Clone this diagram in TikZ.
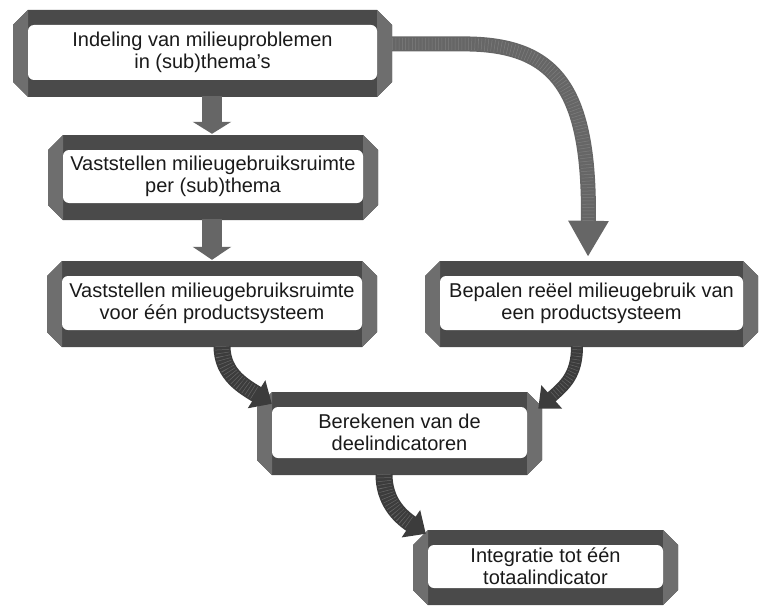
\documentclass[tikz,border=0pt]{standalone}
\usepackage{fontspec}
\setmainfont{Liberation Sans}
\usetikzlibrary{arrows.meta}
\definecolor{fdark}{HTML}{4A4A4A}
\definecolor{fside}{HTML}{6E6E6E}
\definecolor{arrmid}{HTML}{666666}
\definecolor{arrdark}{HTML}{3C3C3C}
\definecolor{hatchc}{HTML}{7E7E7E}
\definecolor{hatchd}{HTML}{666666}
\definecolor{txt}{HTML}{1A1A1A}
\tikzset{
  boxtext/.style={align=center, inner sep=0pt, text=txt,
    font=\fontsize{20}{22}\selectfont},
  fatstraight/.style={draw=arrmid, line width=20pt},
  curvedarrow/.style n args={3}{line width=#1pt,
    postaction={draw=#3, line width=#1pt-3pt, dash pattern=on 0.5pt off 2.8pt, arrows=-, shorten >=#2pt}},
}
\newcommand{\bevbox}[6]{%
  \fill[fdark] (#2+15,#3) -- (#4-15,#3) -- (#4,#3+15) -- (#4,#5-15) -- (#4-15,#5) -- (#2+15,#5) -- (#2,#5-15) -- (#2,#3+15) -- cycle;
  \fill[fside] (#2,#3+15) -- (#2+15,#3) -- (#2+15,#5) -- (#2,#5-15) -- cycle;
  \fill[fside] (#4,#3+15) -- (#4-15,#3) -- (#4-15,#5) -- (#4,#5-15) -- cycle;
  \fill[white,rounded corners=6pt] (#2+15,#3+15) rectangle (#4-15,#5-17);
  \node[boxtext, minimum width={(#4-#2)*1pt}, minimum height={(#5-#3)*1pt}] (#1) at ({(#2+#4)/2},{(#3+#5)/2-1}) {#6};
}
\begin{document}
\begin{tikzpicture}[x=1pt,y=-1pt]
\useasboundingbox (0,0) rectangle (759,615);
\bevbox{b1}{13}{10}{392}{97}{Indeling van milieuproblemen\\in (sub)thema's}
\bevbox{b2}{48}{135}{378}{220}{Vaststellen milieugebruiksruimte\\per (sub)thema}
\bevbox{b3}{47}{261}{377}{347}{Vaststellen milieugebruiksruimte\\voor één productsysteem}
\bevbox{b4}{425}{261}{758}{347}{Bepalen reëel milieugebruik van\\een productsysteem}
\bevbox{b5}{257}{392}{542}{475}{Berekenen van de\\deelindicatoren}
\bevbox{b6}{413}{530}{678}{605}{Integratie tot één\\totaalindicator}
% straight arrows
\draw[fatstraight, -{Triangle[length=12pt,width=38pt]}] ([xshift=9.5pt]b1.south) -- ([xshift=9.5pt]b1.south |- b2.north);
\draw[fatstraight, -{Triangle[length=13pt,width=38pt]}] ([xshift=-1pt]b2.south) -- ([xshift=-1pt]b2.south |- b3.north);
% curved arrow to b4
\draw[draw=arrmid, curvedarrow={15}{35}{hatchc}, -{Triangle[length=36pt,width=38pt]}]
  ([yshift=8.5pt]b1.east) -- (470,44) .. controls (560,46) and (590,95) .. ([xshift=-3.5pt,yshift=3pt]b4.north);
% b3 -> b5
\draw[draw=arrdark, curvedarrow={17}{18}{hatchd}, -{Triangle[length=18pt,width=32pt]}]
  ([xshift=10pt]b3.south) .. controls (222,375) and (245,387) .. ([xshift=15pt,yshift=-13pt]b5.north west);
% b4 -> b5
\draw[draw=arrdark, curvedarrow={12}{18}{hatchd}, -{Triangle[length=18pt,width=30pt]}]
  ([xshift=-14.5pt]b4.south) .. controls (577,375) and (565,385) .. ([xshift=-4pt,yshift=-18pt]b5.north east);
% b5 -> b6
\draw[draw=arrdark, curvedarrow={17}{18}{hatchd}, -{Triangle[length=18pt,width=32pt]}]
  ([xshift=-15.5pt]b5.south) .. controls (384,500) and (398,515) .. ([xshift=13pt,yshift=-5pt]b6.north west);
\end{tikzpicture}
\end{document}
